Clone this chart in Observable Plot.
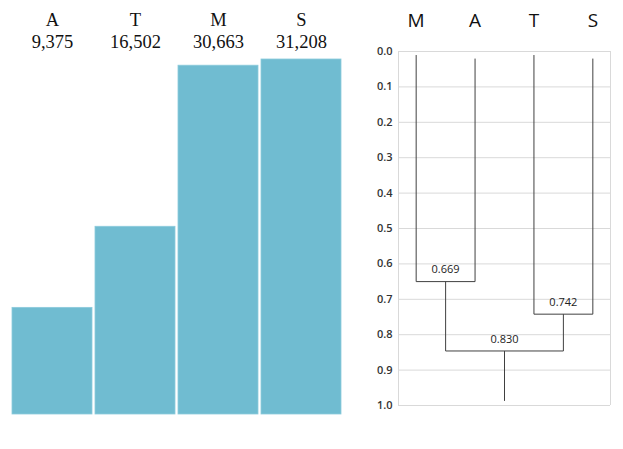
<!DOCTYPE html>
<html>
<head>
<meta charset="utf-8">
<script src="https://cdn.jsdelivr.net/npm/d3@7"></script>
<script src="https://cdn.jsdelivr.net/npm/@observablehq/plot@0.6"></script>
<style>
  html, body { margin: 0; padding: 0; background: #fff; }
  #wrap { display: flex; flex-direction: row; width: 623px; height: 449px; }
  svg { display: block; }
</style>
</head>
<body>
<div id="wrap"></div>
<script>
// ---- Bar chart data ----
const categories = ["A", "T", "M", "S"];
const counts = [9375, 16502, 30663, 31208];

// ---- Dendrogram data ----
const leafNames = ["M", "A", "T", "S"];
const leafTops = [0.01, 0.02, 0.01, 0.02];
const mergeHeights = [0.65, 0.742, 0.846];   // M–A, T–S, (MA)–(TS)
const mergeLabels = ["0.669", "0.742", "0.830"];
const rootEnd = 0.987;
const yTicks = [0, 0.1, 0.2, 0.3, 0.4, 0.5, 0.6, 0.7, 0.8, 0.9, 1.0];

const barData = categories.map((c, i) => ({cat: c, value: counts[i], label: d3.format(",")(counts[i])}));

const left = Plot.plot({
  width: 355,
  height: 449,
  marginLeft: 11,
  marginRight: 12,
  marginTop: 59,
  marginBottom: 35,
  x: {domain: categories, paddingInner: 0.036, paddingOuter: 0, axis: null},
  y: {domain: [0, d3.max(counts)], axis: null},
  marks: [
    Plot.barY(barData, {x: "cat", y: "value", fill: "#70bcd1", stroke: "#8ccbdc", strokeWidth: 0.8, inset: 0}),
    Plot.text(barData, {x: "cat", text: "cat", frameAnchor: "top", lineAnchor: "middle", dy: -39, fontSize: 18.5, fontFamily: "Liberation Serif", fill: "#111"}),
    Plot.text(barData, {x: "cat", text: "label", frameAnchor: "top", lineAnchor: "middle", dy: -17, fontSize: 18.5, fontFamily: "Liberation Serif", fill: "#111"})
  ]
});

// build dendrogram segments
const pos = Object.fromEntries(leafNames.map((n, i) => [n, i]));
const clusterA = [pos.M, pos.A];
const clusterB = [pos.T, pos.S];
const midA = d3.mean(clusterA), midB = d3.mean(clusterB), midRoot = (midA + midB) / 2;
const segs = [];
leafNames.forEach((n, i) => {
  const h = clusterA.includes(i) ? mergeHeights[0] : mergeHeights[1];
  segs.push({x1: i, x2: i, y1: leafTops[i], y2: h});
});
segs.push({x1: clusterA[0], x2: clusterA[1], y1: mergeHeights[0], y2: mergeHeights[0]});
segs.push({x1: clusterB[0], x2: clusterB[1], y1: mergeHeights[1], y2: mergeHeights[1]});
segs.push({x1: midA, x2: midA, y1: mergeHeights[0], y2: mergeHeights[2]});
segs.push({x1: midB, x2: midB, y1: mergeHeights[1], y2: mergeHeights[2]});
segs.push({x1: midA, x2: midB, y1: mergeHeights[2], y2: mergeHeights[2]});
segs.push({x1: midRoot, x2: midRoot, y1: mergeHeights[2], y2: rootEnd});

const nodeLabels = [
  {x: midA, y: mergeHeights[0], t: mergeLabels[0]},
  {x: midB, y: mergeHeights[1], t: mergeLabels[1]},
  {x: midRoot, y: mergeHeights[2], t: mergeLabels[2]}
];
const leafData = leafNames.map((n, i) => ({x: i, n}));

const right = Plot.plot({
  width: 268,
  height: 449,
  marginLeft: 43,
  marginRight: 13,
  marginTop: 51,
  marginBottom: 44,
  style: {fontFamily: "Open Sans, sans-serif"},
  x: {domain: [-0.3, 3.3], axis: null},
  y: {domain: [0, 1], reverse: true, axis: null},
  marks: [
    Plot.gridY(yTicks, {stroke: "#d9d9d9", strokeOpacity: 1}),
    Plot.ruleX([-0.3, 3.3], {stroke: "#d9d9d9", y1: 0, y2: 1}),
    Plot.axisY(yTicks, {tickFormat: d3.format(".1f"), tickSize: 0, tickPadding: 6, fontSize: 11, fontWeight: 600, fill: "#333", label: null}),
    Plot.link(segs, {x1: "x1", x2: "x2", y1: "y1", y2: "y2", stroke: "#404040", strokeWidth: 1}),
    Plot.text(nodeLabels, {x: "x", y: "y", text: "t", dy: -12, fontSize: 11, fill: "#222"}),
    Plot.text(leafData, {x: "x", text: "n", frameAnchor: "top", lineAnchor: "middle", dy: -31, fontSize: 19, fill: "#111"})
  ]
});

document.getElementById("wrap").append(left, right);
</script>
</body>
</html>
